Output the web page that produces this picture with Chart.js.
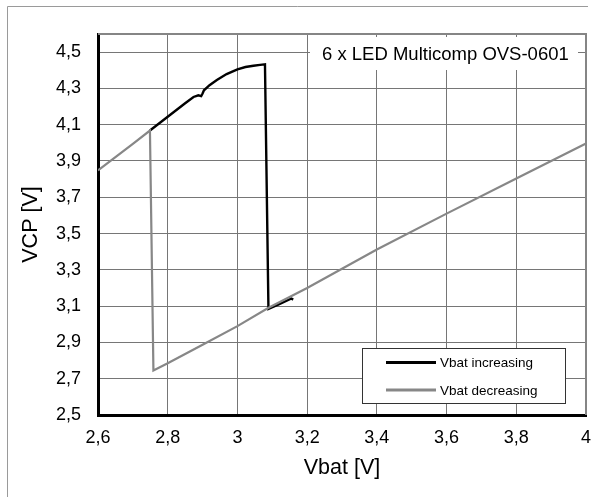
<!DOCTYPE html>
<html>
<head>
<meta charset="utf-8">
<style>
  body { margin: 0; background: #fff; }
  canvas { display: block; }
</style>
</head>
<body>
<canvas id="myChart" width="595" height="497"></canvas>
<script src="https://cdn.jsdelivr.net/npm/chart.js@4.4.0/dist/chart.umd.min.js"></script>
<script>
'use strict';

// ************* DATA *******************

// Vbat increasing (black trace)
const incVbat = [2.749, 2.8, 2.85, 2.874, 2.888, 2.896, 2.9, 2.904, 2.92, 2.941, 2.969, 3.0, 3.023, 3.046, 3.065, 3.079, 3.089, 3.12, 3.155, 3.16];
const incVcp = [4.068, 4.144, 4.218, 4.253, 4.262, 4.258, 4.272, 4.29, 4.318, 4.346, 4.379, 4.405, 4.418, 4.425, 4.43, 4.433, 3.085, 3.111, 3.142, 3.136];

// Vbat decreasing (grey trace)
const decVbat = [4.0, 3.8, 3.6, 3.4, 3.2, 3.088, 3.0, 2.9, 2.8, 2.759, 2.749, 2.7, 2.6];
const decVcp = [3.996, 3.803, 3.61, 3.412, 3.2, 3.09, 2.99, 2.887, 2.785, 2.746, 4.068, 3.995, 3.848];

// tick labels
const xTicks = [2.6, 2.8, 3.0, 3.2, 3.4, 3.6, 3.8, 4.0];
const yTicks = [2.5, 2.7, 2.9, 3.1, 3.3, 3.5, 3.7, 3.9, 4.1, 4.3, 4.5];

const seriesNames = ['Vbat increasing', 'Vbat decreasing'];
const chartTitle = '6 x LED Multicomp OVS-0601';

// +++++ HELPERS +++++
const FONT = '"Liberation Sans", Arial, sans-serif';

function toPoints(xs, ys) {
  let pts = [];
  for (let i = 0; i < xs.length; i++) {
    pts.push({ x: xs[i], y: ys[i] });
  }
  return pts;
}

// decimal comma like the original
function commaLabel(value) {
  return String(Number(value.toFixed(1))).replace('.', ',');
}

// ******* PLUGIN: frame, title box and legend *******
const decorPlugin = {
  id: 'decor',
  afterDraw(chart) {
    const c = chart.ctx;
    const a = chart.chartArea;
    c.save();

    // outer frame (top + left only visible)
    c.strokeStyle = '#9a9a9a';
    c.lineWidth = 1;
    c.beginPath();
    c.moveTo(7.5, 497);
    c.lineTo(7.5, 6.5);
    c.lineTo(588, 6.5);
    c.stroke();

    // top + right plot border (grey)
    c.strokeStyle = '#858585';
    c.lineWidth = 2;
    c.beginPath();
    c.moveTo(a.left, a.top);
    c.lineTo(a.right, a.top);
    c.lineTo(a.right, a.bottom);
    c.stroke();

    // title box
    c.fillStyle = '#fff';
    c.fillRect(310, 37, 268, 33);
    c.fillStyle = '#000';
    c.font = '18.5px ' + FONT;
    c.textAlign = 'left';
    c.textBaseline = 'middle';
    c.fillText(chartTitle, 322, 55);

    // legend box
    c.fillStyle = '#fff';
    c.fillRect(362, 348, 204, 56);
    c.strokeStyle = '#333';
    c.lineWidth = 1;
    c.strokeRect(362.5, 348.5, 203, 55);

    const rows = [362.5, 390];
    chart.data.datasets.forEach(function (ds, i) {
      c.strokeStyle = ds.borderColor;
      c.lineWidth = 3;
      c.beginPath();
      c.moveTo(386, rows[i]);
      c.lineTo(436, rows[i]);
      c.stroke();
      c.fillStyle = '#000';
      c.font = '13.5px ' + FONT;
      c.fillText(ds.label, 440, rows[i] + 1);
    });

    c.restore();
  }
};

// ******* CHART *******
const ctx = document.getElementById('myChart').getContext('2d');

const chartObj = {
  type: 'scatter',
  data: {
    datasets: [{
      label: seriesNames[0],
      data: toPoints(incVbat, incVcp),
      showLine: true,
      borderColor: '#000000',
      borderWidth: 2.4,
      pointRadius: 0,
      tension: 0,
      order: 1
    },
    {
      label: seriesNames[1],
      data: toPoints(decVbat, decVcp),
      showLine: true,
      borderColor: '#878787',
      borderWidth: 2.2,
      pointRadius: 0,
      tension: 0,
      order: 0
    }]
  },
  options: {
    responsive: false,
    animation: false,
    devicePixelRatio: 1,
    layout: { padding: { top: 34, right: 9, left: 0, bottom: 0 } },
    plugins: {
      legend: { display: false },
      tooltip: { enabled: false }
    },
    scales: {
      x: {
        type: 'linear',
        min: 2.6,
        max: 4.0,
        afterBuildTicks: function (scale) {
          scale.ticks = xTicks.map(v => ({ value: v }));
        },
        afterFit: function (scale) {
          scale.height = 82;
          // don't let the last label push the plot area in
          scale.paddingLeft = 0;
          scale.paddingRight = 0;
        },
        ticks: {
          padding: 12,
          color: '#000',
          font: { family: FONT, size: 18 },
          callback: commaLabel,
          maxRotation: 0
        },
        grid: { color: '#767676', lineWidth: 1, drawTicks: false },
        border: { color: '#000', width: 3 },
        title: {
          display: true,
          text: 'Vbat [V]',
          color: '#000',
          font: { family: FONT, size: 21.5 },
          padding: { top: 0, bottom: 16 }
        }
      },
      y: {
        type: 'linear',
        min: 2.5,
        max: 4.6,
        afterBuildTicks: function (scale) {
          scale.ticks = yTicks.map(v => ({ value: v }));
        },
        afterFit: function (scale) {
          scale.width = 98;
          scale.paddingTop = 0;
          scale.paddingBottom = 0;
        },
        ticks: {
          padding: 17,
          color: '#000',
          font: { family: FONT, size: 18 },
          callback: commaLabel
        },
        grid: { color: '#767676', lineWidth: 1, drawTicks: false },
        border: { color: '#000', width: 3 },
        title: {
          display: true,
          text: 'VCP [V]',
          color: '#000',
          font: { family: FONT, size: 21.5 },
          padding: { top: 18, bottom: 0 }
        }
      }
    }
  },
  plugins: [decorPlugin]
};

const myChart = new Chart(ctx, chartObj); // eslint-disable-line
</script>
</body>
</html>
